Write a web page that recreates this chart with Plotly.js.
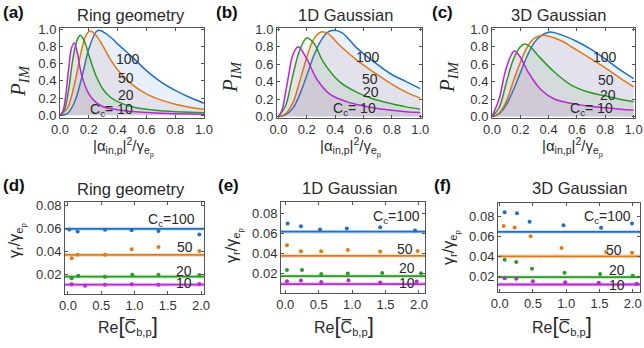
<!DOCTYPE html>
<html><head><meta charset="utf-8">
<script src="https://cdn.plot.ly/plotly-3.0.1.min.js"></script>
<style>html,body{margin:0;padding:0;background:#fff}#chart{width:644px;height:348px}</style>
</head><body><div id="chart"></div><script>
// ---------- Data: P_IM curves (top row) ----------
const ringX10 = [0,0.02,0.04,0.06,0.08,0.1,0.12,0.15,0.2,0.25,0.3,0.4,0.5,0.6,0.7,0.8,0.9,1.0];
const ringP10 = [0,0.05,0.23,0.54,0.78,0.84,0.73,0.47,0.25,0.15,0.1,0.065,0.045,0.032,0.025,0.019,0.015,0.012];
const ringX20 = [0,0.03,0.06,0.09,0.12,0.14,0.17,0.2,0.25,0.3,0.35,0.4,0.5,0.6,0.7,0.8,0.9,1.0];
const ringP20 = [0,0.06,0.3,0.66,0.88,0.93,0.86,0.7,0.46,0.3,0.21,0.16,0.1,0.07,0.052,0.042,0.035,0.03];
const ringX50 = [0,0.05,0.1,0.15,0.18,0.21,0.25,0.3,0.35,0.4,0.5,0.6,0.7,0.8,0.9,1.0];
const ringP50 = [0,0.08,0.36,0.76,0.93,0.98,0.93,0.8,0.65,0.53,0.36,0.25,0.18,0.13,0.095,0.07];
const ringX100 = [0,0.05,0.1,0.15,0.2,0.25,0.27,0.3,0.35,0.4,0.5,0.6,0.7,0.8,0.9,1.0];
const ringP100 = [0,0.02,0.15,0.43,0.77,0.97,0.99,0.97,0.91,0.83,0.68,0.52,0.39,0.29,0.21,0.14];

const g1X10 = [0,0.025,0.05,0.075,0.1,0.14,0.2,0.27,0.36,0.48,0.6,0.7,0.8,0.9,1.0];
const g1P10 = [0,0.07,0.27,0.5,0.7,0.8,0.66,0.43,0.26,0.17,0.12,0.09,0.07,0.055,0.045];
const g1X20 = [0,0.05,0.1,0.15,0.2,0.25,0.315,0.43,0.55,0.67,0.79,0.9,1.0];
const g1P20 = [0,0.12,0.46,0.76,0.9,0.84,0.63,0.4,0.28,0.2,0.15,0.11,0.084];
const g1X50 = [0,0.05,0.1,0.15,0.2,0.25,0.3,0.35,0.43,0.55,0.67,0.79,0.9,1.0];
const g1P50 = [0,0.03,0.15,0.4,0.68,0.89,0.97,0.95,0.82,0.65,0.51,0.38,0.28,0.21];
const g1X100 = [0,0.05,0.1,0.15,0.2,0.25,0.3,0.35,0.39,0.45,0.55,0.67,0.79,0.9,1.0];
const g1P100 = [0,0.02,0.09,0.25,0.47,0.7,0.87,0.97,0.99,0.96,0.79,0.63,0.49,0.4,0.32];

const g3X10 = [0,0.05,0.1,0.157,0.2,0.255,0.35,0.44,0.56,0.68,0.8,0.91,1.0];
const g3P10 = [0,0.2,0.55,0.75,0.68,0.51,0.3,0.2,0.15,0.12,0.1,0.084,0.073];
const g3X20 = [0,0.05,0.1,0.15,0.2,0.23,0.27,0.325,0.44,0.56,0.68,0.79,0.91,1.0];
const g3P20 = [0,0.1,0.38,0.65,0.8,0.83,0.8,0.7,0.51,0.36,0.28,0.24,0.195,0.17];
const g3X50 = [0,0.05,0.1,0.15,0.2,0.25,0.3,0.35,0.4,0.5,0.56,0.68,0.79,0.91,1.0];
const g3P50 = [0,0.04,0.17,0.4,0.62,0.8,0.9,0.93,0.92,0.86,0.8,0.68,0.57,0.435,0.34];
const g3X100 = [0,0.05,0.1,0.15,0.2,0.25,0.3,0.35,0.41,0.5,0.6,0.7,0.8,0.9,1.0];
const g3P100 = [0,0.03,0.13,0.3,0.5,0.7,0.85,0.93,0.97,0.93,0.86,0.77,0.66,0.54,0.435];

// ---------- Data: gamma_r / gamma_ep (bottom row) ----------
const ringLine = {c100:0.0597, c50:0.0371, c20:0.0183, c10:0.0113};
const ringDX100 = [0.02,0.145,0.556,0.957,1.36,1.975];
const ringDY100 = [0.059,0.0574,0.0588,0.0585,0.0577,0.0547];
const ringDX50 = [0.055,0.145,0.556,0.957,1.36,1.975];
const ringDY50 = [0.0343,0.0372,0.0372,0.0419,0.0439,0.0404];
const ringDX20 = [0.055,0.155,0.556,0.967,1.36,1.975];
const ringDY20 = [0.0168,0.0191,0.0183,0.02,0.02,0.0197];
const ringDX10 = [0.055,0.256,0.556,0.957,1.36,1.975];
const ringDY10 = [0.0118,0.0104,0.0112,0.0118,0.0112,0.012];

const g1Line = {c100:0.0616, c50:0.0375, c20:0.0171, c10:0.0092};
const g1DX100 = [0.035,0.234,0.52,0.92,1.42,1.94];
const g1DY100 = [0.0697,0.067,0.0637,0.0647,0.066,0.0627];
const g1DX50 = [0.025,0.234,0.537,0.935,1.42,1.98];
const g1DY50 = [0.048,0.042,0.042,0.0433,0.0417,0.0423];
const g1DX20 = [0.025,0.25,0.537,0.935,1.45,2.03];
const g1DY20 = [0.0233,0.0233,0.0193,0.0197,0.0203,0.02];
const g1DX10 = [0.025,0.234,0.537,0.945,1.42,1.965];
const g1DY10 = [0.012,0.0127,0.0113,0.013,0.0107,0.0117];

const g3Line = {c100:0.0644, c50:0.0398, c20:0.0189, c10:0.0115};
const g3DX100 = [0.075,0.26,0.45,0.96,1.525,1.99];
const g3DY100 = [0.0839,0.0829,0.0745,0.0711,0.0684,0.0728];
const g3DX50 = [0.06,0.225,0.465,0.93,1.6,1.99];
const g3DY50 = [0.0701,0.0688,0.06,0.0482,0.0442,0.0435];
const g3DX20 = [0.075,0.25,0.485,0.975,1.51,2.0];
const g3DY20 = [0.0364,0.0341,0.0273,0.0233,0.022,0.0203];
const g3DX10 = [0.075,0.25,0.5,0.985,1.49,2.06];
const g3DY10 = [0.0179,0.0172,0.0149,0.0139,0.0132,0.0122];

const topTicksX = ["0.0","0.2","0.4","0.6","0.8","1.0"];
const topTicksY = ["0.0","0.2","0.4","0.6","0.8","1.0"];
const botTicksX = ["0.0","0.5","1.0","1.5","2.0"];
const botTicksY = ["0.02","0.04","0.06","0.08"];

// ---------- Styling ----------
const COL = {c100:'#1f6fc2', c50:'#e07a18', c20:'#2a9a26', c10:'#b52ad2'};
const FILL = {c100:'rgba(120,170,235,0.18)', c50:'rgba(200,120,120,0.12)', c20:'rgba(90,170,80,0.10)', c10:'rgba(170,60,170,0.10)'};
const HALO = {c100:'rgba(120,170,235,0.35)', c50:'rgba(235,170,110,0.35)', c20:'rgba(120,200,110,0.35)', c10:'rgba(210,120,230,0.35)'};
const SANS = 'Liberation Sans, Arial, sans-serif';
const TXT = '#2a2a2a';
const W = 644, H = 348;
const traces = [];

function curves(ax, set){
  ['c100','c50','c20','c10'].forEach(k=>{
    traces.push({x:set[k][0], y:set[k][1], xaxis:'x'+ax, yaxis:'y'+ax, mode:'lines',
      line:{color:COL[k], width:1.5, shape:'spline', smoothing:1}, fill:'tozeroy', fillcolor:FILL[k],
      hoverinfo:'skip', showlegend:false});
  });
}
function dots(ax, set, lines){
  ['c100','c50','c20','c10'].forEach(k=>{
    traces.push({x:[-0.2,2.3], y:[lines[k],lines[k]], xaxis:'x'+ax, yaxis:'y'+ax, mode:'lines',
      line:{color:HALO[k], width:4}, hoverinfo:'skip', showlegend:false});
    traces.push({x:[-0.2,2.3], y:[lines[k],lines[k]], xaxis:'x'+ax, yaxis:'y'+ax, mode:'lines',
      line:{color:COL[k], width:1.8}, hoverinfo:'skip', showlegend:false});
    traces.push({x:set[k][0], y:set[k][1], xaxis:'x'+ax, yaxis:'y'+ax, mode:'markers',
      marker:{color:COL[k], size:4}, hoverinfo:'skip', showlegend:false});
  });
}
curves('', {c100:[ringX100,ringP100], c50:[ringX50,ringP50], c20:[ringX20,ringP20], c10:[ringX10,ringP10]});
curves('2', {c100:[g1X100,g1P100], c50:[g1X50,g1P50], c20:[g1X20,g1P20], c10:[g1X10,g1P10]});
curves('3', {c100:[g3X100,g3P100], c50:[g3X50,g3P50], c20:[g3X20,g3P20], c10:[g3X10,g3P10]});
dots('4', {c100:[ringDX100,ringDY100], c50:[ringDX50,ringDY50], c20:[ringDX20,ringDY20], c10:[ringDX10,ringDY10]}, ringLine);
dots('5', {c100:[g1DX100,g1DY100], c50:[g1DX50,g1DY50], c20:[g1DX20,g1DY20], c10:[g1DX10,g1DY10]}, g1Line);
dots('6', {c100:[g3DX100,g3DY100], c50:[g3DX50,g3DY50], c20:[g3DX20,g3DY20], c10:[g3DX10,g3DY10]}, g3Line);
traces.forEach(t=>{ if(t.xaxis==='x'){ t.xaxis='x'; t.yaxis='y'; } });

function axis(domainPx, range, tickvals, ticktext, anchor, vertical){
  const d = vertical ? [1-domainPx[1]/H, 1-domainPx[0]/H] : [domainPx[0]/W, domainPx[1]/W];
  return {domain:d, range:range, anchor:anchor, showline:true, mirror:'ticks', linecolor:'#555', linewidth:1,
    ticks:'inside', ticklen:3, tickwidth:1, tickcolor:'#555', showgrid:false, zeroline:false,
    tickvals:tickvals, ticktext:ticktext, tickfont:{family:SANS, size:13, color:'#333'}, fixedrange:true};
}
const tvT = [0,0.2,0.4,0.6,0.8,1.0];
const layout = {
  width:W, height:H, margin:{l:0,r:0,t:0,b:0}, paper_bgcolor:'#fff', plot_bgcolor:'#fff', showlegend:false,
  xaxis: axis([60,204],[0,1.0],tvT,topTicksX,'y'),
  yaxis: axis([28,117.5],[-0.025,1.015],tvT,topTicksY,'x',true),
  xaxis2: axis([277,422],[-0.01,1.012],tvT,topTicksX,'y2'),
  yaxis2: axis([28,117.5],[-0.012,1.015],tvT,topTicksY,'x2',true),
  xaxis3: axis([492,635],[0,1.01],tvT,topTicksX,'y3'),
  yaxis3: axis([28,117.5],[-0.012,1.015],tvT,topTicksY,'x3',true),
  xaxis4: axis([65,204],[-0.045,2.045],[0,0.5,1,1.5,2],botTicksX,'y4'),
  yaxis4: axis([202,293.5],[0.0037,0.0829],[0.02,0.04,0.06,0.08],botTicksY,'x4',true),
  xaxis5: axis([281,425],[-0.064,2.09],[0,0.5,1,1.5,2],botTicksX,'y5'),
  yaxis5: axis([202.3,292.7],[0.0006,0.091],[0.02,0.04,0.06,0.08],botTicksY,'x5',true),
  xaxis6: axis([498,640],[-0.025,2.11],[0,0.5,1,1.5,2],botTicksX,'y6'),
  yaxis6: axis([203.3,291.7],[0.0043,0.093],[0.02,0.04,0.06,0.08],botTicksY,'x6',true),
  annotations:[]
};
function note(text, X, Y, size, opts){
  layout.annotations.push(Object.assign({text:text, x:X/W, y:1-Y/H, xref:'paper', yref:'paper', showarrow:false,
    xanchor:'center', yanchor:'middle', font:{family:SANS, size:size, color:TXT}}, opts||{}));
}
function dataNote(text, ax, x, y, size){
  layout.annotations.push({text:text, x:x, y:y, xref:'x'+ax, yref:'y'+ax, showarrow:false,
    xanchor:'center', yanchor:'middle', font:{family:SANS, size:size, color:TXT}});
}
// panel letters
[['(a)',13,13],['(b)',227,13],['(c)',442,13],['(d)',14,185],['(e)',229,186],['(f)',442,185]].forEach(a=>
  note('<b>'+a[0]+'</b>', a[1], a[2], 17, {font:{family:SANS,size:17,color:'#111'}}));
// titles
[['Ring geometry',131,15],['1D Gaussian',345,15],['3D Gaussian',558,15],
 ['Ring geometry',131,189],['1D Gaussian',349,188],['3D Gaussian',579,188]].forEach(a=>note(a[0],a[1],a[2],16.5));
// y titles
[[19,81],[231,77],[448,77]].forEach(p=>note('<i>P</i><sub><i>IM</i></sub>', p[0], p[1], 21,
  {textangle:-90, font:{family:'Liberation Serif, serif', size:21, color:TXT}}));
[[17,241],[234,246],[451,248]].forEach(p=>note('γ<sub>r</sub>/γ<sub>e<sub>p</sub></sub>', p[0], p[1], 16, {textangle:-90}));
// x titles
[[123,147],[351,147],[572,147]].forEach(p=>note('|α<sub>in,p</sub>|<sup>2</sup>/γ<sub>e<sub>p</sub></sub>', p[0], p[1], 15));
[[128,325],[344,325],[562,325]].forEach(p=>note('Re<span style="font-size:22px">[</span>C\u0305<sub>b,p</sub><span style="font-size:22px">]</span>', p[0], p[1], 16));
// in-plot labels, top row
dataNote('100','',0.47,0.66,14); dataNote('50','',0.46,0.43,14); dataNote('20','',0.46,0.24,14); dataNote('C<sub>c</sub>= 10','',0.355,0.06,14);
dataNote('100','2',0.633,0.683,14); dataNote('50','2',0.645,0.435,14); dataNote('20','2',0.652,0.275,14); dataNote('C<sub>c</sub>= 10','2',0.539,0.085,14);
dataNote('100','3',0.796,0.683,14); dataNote('50','3',0.807,0.416,14); dataNote('20','3',0.819,0.245,14); dataNote('C<sub>c</sub>= 10','3',0.701,0.085,14);
// in-plot labels, bottom row
dataNote('C<sub>c</sub>=100','4',1.56,0.0672,14); dataNote('50','4',1.76,0.0443,14); dataNote('20','4',1.745,0.0235,14); dataNote('10','4',1.745,0.0126,14);
dataNote('C<sub>c</sub>=100','5',1.667,0.0766,14); dataNote('50','5',1.79,0.044,14); dataNote('20','5',1.816,0.0256,14); dataNote('10','5',1.816,0.0100,14);
dataNote('C<sub>c</sub>=100','6',1.624,0.0795,14); dataNote('50','6',1.72,0.0459,14); dataNote('20','6',1.77,0.0264,14); dataNote('10','6',1.77,0.0112,14);

Plotly.newPlot('chart', traces, layout, {staticPlot:true, displayModeBar:false});
</script></body></html>
